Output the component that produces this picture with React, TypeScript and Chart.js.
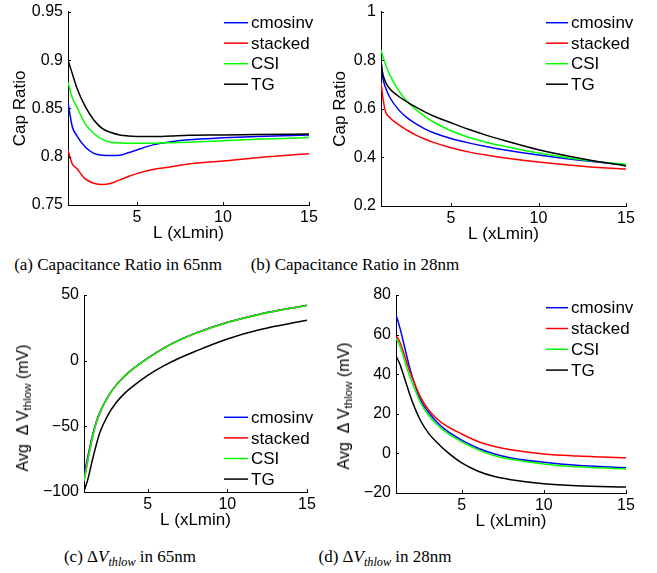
import React, { useEffect, useRef } from 'react';
import { Chart, registerables } from 'chart.js';
Chart.register(...registerables);

const seriesNames = ['cmosinv', 'stacked', 'CSI', 'TG'];
const seriesColors = ['#0000ff', '#ff0000', '#00ff00', '#000000'];
const xTicks = [5, 10, 15];
const xTickLabels = ['5', '10', '15'];

// (a) Capacitance Ratio in 65nm
const xA = [1, 1.25, 1.5, 2, 2.5, 3, 3.5, 4, 4.5, 5, 6, 7, 8, 10, 12, 15];
const cmosinvA = [0.856, 0.831, 0.822, 0.81, 0.8035, 0.8015, 0.8012, 0.8015, 0.804, 0.807, 0.8125, 0.8155, 0.8175, 0.8195, 0.821, 0.8225];
const stackedA = [0.807, 0.7925, 0.788, 0.777, 0.7725, 0.7712, 0.7725, 0.776, 0.7795, 0.7825, 0.787, 0.7895, 0.7925, 0.7955, 0.799, 0.803];
const csiA = [0.877, 0.861, 0.852, 0.834, 0.824, 0.818, 0.815, 0.8143, 0.814, 0.8138, 0.814, 0.8145, 0.815, 0.8165, 0.818, 0.8198];
const tgA = [0.9, 0.886, 0.872, 0.852, 0.838, 0.829, 0.825, 0.8225, 0.8215, 0.821, 0.8208, 0.8215, 0.8222, 0.8225, 0.823, 0.8235];
const yTicksA = [0.75, 0.8, 0.85, 0.9, 0.95];
const yTickLabelsA = ['0.75', '0.8', '0.85', '0.9', '0.95'];

// (b) Capacitance Ratio in 28nm
const xB = [1, 1.1, 1.25, 1.5, 2, 2.5, 3, 3.5, 4, 5, 6, 7, 8, 10, 12.5, 15];
const cmosinvB = [0.795, 0.73, 0.69, 0.648, 0.597, 0.563, 0.538, 0.518, 0.502, 0.478, 0.46, 0.445, 0.432, 0.41, 0.387, 0.369];
const stackedB = [0.707, 0.65, 0.59, 0.565, 0.535, 0.512, 0.492, 0.476, 0.462, 0.44, 0.423, 0.41, 0.399, 0.381, 0.364, 0.352];
const csiB = [0.844, 0.818, 0.785, 0.74, 0.676, 0.63, 0.597, 0.569, 0.546, 0.51, 0.483, 0.463, 0.447, 0.418, 0.39, 0.372];
const tgB = [0.795, 0.745, 0.712, 0.683, 0.652, 0.628, 0.607, 0.588, 0.571, 0.543, 0.516, 0.492, 0.471, 0.432, 0.395, 0.365];
const yTicksB = [0.2, 0.4, 0.6, 0.8, 1];
const yTickLabelsB = ['0.2', '0.4', '0.6', '0.8', '1'];

// (c) dVthlow in 65nm
const xC = [1, 1.25, 1.5, 1.75, 2, 2.5, 3, 3.5, 4, 5, 6, 7, 8, 10, 12, 15];
const cmosinvC = [-87, -72.5, -58.5, -47.2, -39.2, -27.3, -18.8, -12.3, -6.8, 2, 9.6, 15.8, 21, 29.2, 35.4, 42.2];
const stackedC = [-91.8, -75.2, -60.1, -48.1, -39.6, -27.5, -19, -12.5, -7, 1.8, 9.4, 15.6, 20.8, 29, 35.2, 42];
const csiC = [-91.5, -75, -60, -48, -39.5, -27.5, -19, -12.5, -7, 1.8, 9.4, 15.6, 20.8, 29, 35.2, 42];
const tgC = [-99.5, -90, -77, -65, -54.5, -41.5, -32.2, -25.5, -20.2, -11.2, -4, 2, 7.2, 16.5, 23.5, 30.8];
const yTicksC = [-100, -50, 0, 50];
const yTickLabelsC = ['\u2212100', '\u221250', '0', '50'];

// (d) dVthlow in 28nm
const xD = [1, 1.25, 1.5, 1.75, 2, 2.5, 3, 3.5, 4, 5, 6, 7, 8, 10, 12, 15];
const cmosinvD = [70, 63, 54.5, 46, 38.5, 27, 20.5, 15.7, 12, 6.7, 2.6, -0.3, -2.3, -4.5, -6, -7.2];
const stackedD = [59.5, 56, 50, 43.5, 38, 28.3, 21.8, 17.4, 14.3, 9.8, 6, 3.5, 1.8, -0.3, -1.3, -2.2];
const csiD = [58.3, 54, 47.5, 41, 35.5, 25.5, 19, 14.5, 11, 5.8, 1.8, -1.2, -3, -5.3, -6.8, -7.8];
const tgD = [49.2, 44.8, 38.5, 32, 26, 16.5, 10, 5.5, 1.5, -4.8, -9, -11.7, -13.3, -15.3, -16.3, -17];
const yTicksD = [-20, 0, 20, 40, 60, 80];
const yTickLabelsD = ['\u221220', '0', '20', '40', '60', '80'];

const SANS = "'Liberation Sans', Arial, Helvetica, sans-serif";
const SERIF = "'Liberation Serif', 'Times New Roman', serif";

const inwardTicks = {
  id: 'inwardTicks',
  afterDraw(chart: any) {
    const { ctx, chartArea, scales } = chart;
    ctx.save();
    ctx.strokeStyle = '#000';
    ctx.lineWidth = 1;
    ctx.beginPath();
    scales.x.ticks.forEach((t: any) => {
      const px = Math.round(scales.x.getPixelForValue(t.value)) + 0.5;
      ctx.moveTo(px, chartArea.bottom);
      ctx.lineTo(px, chartArea.bottom - 3);
    });
    scales.y.ticks.forEach((t: any) => {
      const py = Math.round(scales.y.getPixelForValue(t.value)) + 0.5;
      ctx.moveTo(chartArea.left, py);
      ctx.lineTo(chartArea.left + 3, py);
    });
    ctx.stroke();
    ctx.restore();
  },
};

const miniLegend = {
  id: 'miniLegend',
  afterDraw(chart: any, _args: any, opts: any) {
    const { ctx } = chart;
    ctx.save();
    ctx.font = `17px ${SANS}`;
    ctx.textBaseline = 'middle';
    ctx.textAlign = 'left';
    chart.data.datasets.forEach((ds: any, i: number) => {
      const y = opts.y + i * opts.gap;
      ctx.strokeStyle = ds.borderColor;
      ctx.lineWidth = 1.5;
      ctx.beginPath();
      ctx.moveTo(opts.x, y);
      ctx.lineTo(opts.x + opts.len, y);
      ctx.stroke();
      ctx.fillStyle = '#000';
      ctx.fillText(ds.label, opts.x + opts.len + 3, y + 1);
    });
    ctx.restore();
  },
};

type Panel = {
  left: number; top: number; width: number; height: number;
  padTop: number; padRight: number; yWidth: number;
  x: number[]; series: number[][];
  yMin: number; yMax: number; yTicks: number[]; yLabels: string[];
  yTitle: string | null; yTitlePad: number;
  legend: { x: number; y: number; gap: number; len: number };
};

const panels: Panel[] = [
  {
    left: 0, top: 0, width: 328, height: 250, padTop: 7, padRight: 19, yWidth: 68,
    x: xA, series: [cmosinvA, stackedA, csiA, tgA],
    yMin: 0.75, yMax: 0.95, yTicks: yTicksA, yLabels: yTickLabelsA,
    yTitle: 'Cap Ratio', yTitlePad: 11.5,
    legend: { x: 224, y: 22.7, gap: 20.5, len: 24 },
  },
  {
    left: 328, top: 0, width: 329, height: 251, padTop: 7, padRight: 31, yWidth: 53,
    x: xB, series: [cmosinvB, stackedB, csiB, tgB],
    yMin: 0.2, yMax: 1, yTicks: yTicksB, yLabels: yTickLabelsB,
    yTitle: 'Cap Ratio', yTitlePad: 3.5,
    legend: { x: 218, y: 22.7, gap: 20.5, len: 22 },
  },
  {
    left: 0, top: 280, width: 328, height: 257, padTop: 15, padRight: 21, yWidth: 84,
    x: xC, series: [cmosinvC, stackedC, csiC, tgC],
    yMin: -100, yMax: 50, yTicks: yTicksC, yLabels: yTickLabelsC,
    yTitle: null, yTitlePad: 0,
    legend: { x: 224, y: 137.3, gap: 20.6, len: 24 },
  },
  {
    left: 328, top: 280, width: 329, height: 258, padTop: 15, padRight: 31, yWidth: 68,
    x: xD, series: [cmosinvD, stackedD, csiD, tgD],
    yMin: -20, yMax: 80, yTicks: yTicksD, yLabels: yTickLabelsD,
    yTitle: null, yTitlePad: 0,
    legend: { x: 218, y: 27.7, gap: 20.8, len: 22 },
  },
];

function makeConfig(p: Panel): any {
  const tickFont = { family: SANS, size: 16, lineHeight: 0.85 };
  const titleFont = { family: SANS, size: 17, lineHeight: 1 };
  return {
    type: 'line',
    data: {
      datasets: p.series.map((vals, i) => ({
        label: seriesNames[i],
        data: p.x.map((x, j) => ({ x, y: vals[j] })),
        borderColor: seriesColors[i],
        backgroundColor: seriesColors[i],
        borderWidth: 1.5,
        pointRadius: 0,
        fill: false,
        cubicInterpolationMode: 'monotone',
        order: seriesNames.length - 1 - i,
      })),
    },
    options: {
      animation: false,
      responsive: false,
      maintainAspectRatio: false,
      events: [],
      layout: { padding: { left: 0, top: p.padTop, right: p.padRight, bottom: 0 } },
      plugins: {
        legend: { display: false },
        tooltip: { enabled: false },
        miniLegend: p.legend,
      },
      scales: {
        x: {
          type: 'linear',
          min: 1,
          max: 15,
          grid: { display: false, drawTicks: false, tickLength: 0 },
          border: { display: true, color: '#000', width: 1 },
          afterBuildTicks: (s: any) => { s.ticks = xTicks.map((v) => ({ value: v })); },
          afterFit: (s: any) => { s.height = 45; },
          ticks: {
            padding: 6, color: '#000', font: tickFont, maxRotation: 0, autoSkip: false,
            callback: (_v: any, i: number) => xTickLabels[i],
          },
          title: {
            display: true, text: 'L (xLmin)', color: '#000', font: titleFont,
            padding: { top: 0, bottom: 8 },
          },
        },
        y: {
          type: 'linear',
          min: p.yMin,
          max: p.yMax,
          grid: { display: false, drawTicks: false, tickLength: 0 },
          border: { display: true, color: '#000', width: 1 },
          afterBuildTicks: (s: any) => { s.ticks = p.yTicks.map((v) => ({ value: v })); },
          afterFit: (s: any) => { s.width = p.yWidth; },
          ticks: {
            padding: 5, color: '#000', font: tickFont, autoSkip: false,
            callback: (_v: any, i: number) => p.yLabels[i],
          },
          title: p.yTitle
            ? { display: true, text: p.yTitle, color: '#000', font: titleFont, padding: { top: p.yTitlePad, bottom: 0 } }
            : { display: false },
        },
      },
    },
    plugins: [inwardTicks, miniLegend],
  };
}

function PanelChart({ p }: { p: Panel }) {
  const ref = useRef<HTMLCanvasElement | null>(null);
  useEffect(() => {
    if (!ref.current) return;
    const chart = new Chart(ref.current, makeConfig(p));
    return () => chart.destroy();
  }, [p]);
  return (
    <canvas
      ref={ref}
      width={p.width}
      height={p.height}
      style={{ position: 'absolute', left: p.left, top: p.top, width: p.width, height: p.height }}
    />
  );
}

const captionStyle: React.CSSProperties = {
  position: 'absolute',
  transform: 'translateX(-50%)',
  whiteSpace: 'nowrap',
  fontFamily: SERIF,
  fontSize: 17,
  lineHeight: '20px',
  color: '#000',
};

const subStyle: React.CSSProperties = { fontSize: '0.72em', verticalAlign: '-0.3em', lineHeight: 0 };

const vTitleStyle: React.CSSProperties = {
  position: 'absolute',
  transform: 'translate(-50%, -50%) rotate(-90deg)',
  whiteSpace: 'nowrap',
  fontFamily: SANS,
  fontSize: 16,
  lineHeight: '18px',
  color: '#000',
};

function VTitle() {
  return (
    <>
      Avg&nbsp; Δ V<span style={subStyle}>thlow</span> (mV)
    </>
  );
}

function MathCap() {
  return (
    <>
      Δ<i>V</i><span style={{ ...subStyle, fontStyle: 'italic' }}>thlow</span>
    </>
  );
}

export default function App() {
  return (
    <div style={{ position: 'absolute', left: 0, top: 0, width: 657, height: 573, background: '#fff', overflow: 'hidden' }}>
      {panels.map((p, i) => (
        <PanelChart key={i} p={p} />
      ))}
      <div style={{ ...vTitleStyle, left: 23, top: 408 }}><VTitle /></div>
      <div style={{ ...vTitleStyle, left: 344, top: 406 }}><VTitle /></div>
      <div style={{ ...captionStyle, left: 118, top: 255 }}>(a) Capacitance Ratio in 65nm</div>
      <div style={{ ...captionStyle, left: 355, top: 255 }}>(b) Capacitance Ratio in 28nm</div>
      <div style={{ ...captionStyle, left: 130, top: 547 }}>(c) <MathCap /> in 65nm</div>
      <div style={{ ...captionStyle, left: 385, top: 547 }}>(d) <MathCap /> in 28nm</div>
    </div>
  );
}
